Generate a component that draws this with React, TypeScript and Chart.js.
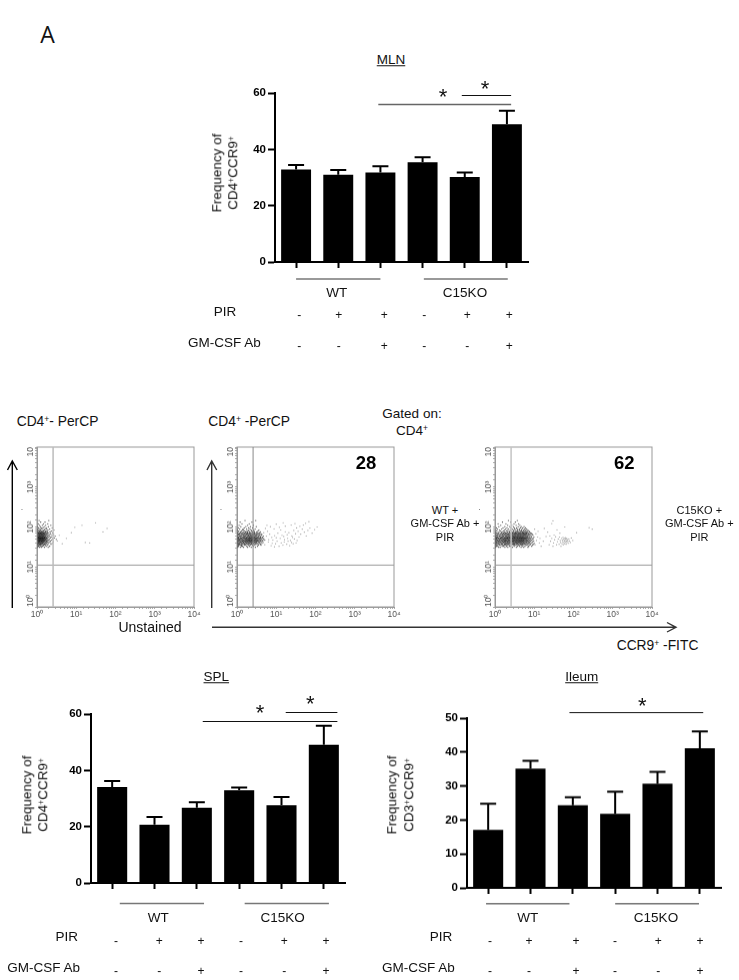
import React, { useEffect, useRef } from "react";
import { Chart, registerables } from "chart.js";

Chart.register(...registerables);

const FONT = '"Liberation Sans", Arial, sans-serif';

// ---------- bar chart data ----------
const categories = ["WT", "WT PIR", "WT PIR + Ab", "C15KO", "C15KO PIR", "C15KO PIR + Ab"];
const pirSigns = ["-", "+", "+", "-", "+", "+"];
const gmSigns = ["-", "-", "+", "-", "-", "+"];

const mlnValues = [32.8, 31, 31.8, 35.4, 30.2, 48.9];
const mlnSem = [1.6, 1.7, 2.2, 1.8, 1.6, 4.8];
const splValues = [34.1, 20.7, 26.7, 32.9, 27.6, 49.1];
const splSem = [2.1, 2.7, 2.0, 1.0, 2.9, 6.7];
const ileumValues = [17.1, 35.1, 24.3, 21.8, 30.7, 41.1];
const ileumSem = [7.7, 2.3, 2.4, 6.5, 3.5, 5.0];

// ---------- flow cytometry data: FITC values for each PerCP row, plus sparse [FITC, PerCP] events ----------
const flowRowLevels = [31, 33, 35, 37, 39, 41, 43, 45, 47, 49, 51, 53, 56, 59, 62, 65, 68, 71, 75, 79, 84, 89, 95, 102, 110, 120, 132, 145];

const unstainedFitc = [
  [1.02, 1.16, 1.29, 1.55, 1.93],
  [1.05, 1.09, 1.21, 1.34, 1.41, 1.71, 2.1],
  [1.01, 1.12, 1.18, 1.26, 1.44, 1.49, 1.63, 1.88],
  [1.04, 1.07, 1.15, 1.23, 1.28, 1.36, 1.52, 1.58, 1.79, 2.27],
  [1.03, 1.1, 1.19, 1.22, 1.31, 1.39, 1.46, 1.61, 1.68, 1.95, 2.44],
  [1.06, 1.08, 1.14, 1.17, 1.25, 1.33, 1.35, 1.42, 1.56, 1.74, 1.81, 2.15],
  [1.02, 1.11, 1.13, 1.2, 1.24, 1.3, 1.38, 1.45, 1.47, 1.6, 1.66, 1.87, 2.02, 2.6],
  [1.05, 1.09, 1.16, 1.18, 1.27, 1.29, 1.34, 1.4, 1.5, 1.54, 1.72, 1.77, 2.2],
  [1.03, 1.07, 1.12, 1.15, 1.21, 1.23, 1.32, 1.37, 1.43, 1.48, 1.57, 1.64, 1.84, 1.98, 2.36],
  [1.01, 1.1, 1.14, 1.19, 1.26, 1.28, 1.35, 1.39, 1.46, 1.53, 1.59, 1.7, 1.76, 2.08, 3.1],
  [1.04, 1.08, 1.13, 1.17, 1.22, 1.25, 1.31, 1.33, 1.41, 1.44, 1.51, 1.62, 1.67, 1.9, 2.5],
  [1.02, 1.06, 1.11, 1.15, 1.2, 1.24, 1.27, 1.36, 1.38, 1.47, 1.55, 1.58, 1.73, 1.82, 2.18, 2.75],
  [1.05, 1.09, 1.12, 1.18, 1.21, 1.29, 1.32, 1.4, 1.43, 1.52, 1.56, 1.65, 1.78, 1.99, 2.3],
  [1.03, 1.07, 1.14, 1.16, 1.23, 1.26, 1.34, 1.37, 1.45, 1.49, 1.6, 1.69, 1.86, 2.12, 2.9],
  [1.01, 1.1, 1.13, 1.19, 1.25, 1.3, 1.35, 1.42, 1.5, 1.57, 1.63, 1.8, 1.96, 2.4],
  [1.04, 1.08, 1.15, 1.2, 1.28, 1.33, 1.39, 1.46, 1.54, 1.68, 1.75, 2.05, 2.65],
  [1.02, 1.11, 1.17, 1.24, 1.27, 1.36, 1.44, 1.53, 1.61, 1.85, 2.22],
  [1.06, 1.09, 1.18, 1.22, 1.31, 1.41, 1.48, 1.59, 1.72, 1.92, 2.5],
  [1.03, 1.13, 1.2, 1.29, 1.38, 1.51, 1.64, 1.83, 2.15],
  [1.07, 1.16, 1.26, 1.34, 1.47, 1.67, 1.79, 2.32],
  [1.01, 1.12, 1.23, 1.43, 1.56, 1.9, 2.7],
  [1.05, 1.19, 1.33, 1.6, 1.77, 2.1],
  [1.1, 1.28, 1.42, 1.71, 2.45],
  [1.03, 1.22, 1.52, 1.95],
  [1.15, 1.37, 1.66, 2.25],
  [1.08, 1.46, 1.88],
  [1.24, 1.6],
  [1.13, 2.0],
];
const unstainedSparse = [[3.3, 45], [3.7, 62], [4.4, 38], [5.6, 52], [9.2, 98], [14, 110], [22, 40], [31, 128], [48, 75], [61, 92], [17, 41], [7.5, 72]];

const wtFitc = [
  [1.04, 1.22, 1.47, 1.86, 2.31, 2.94],
  [1.02, 1.09, 1.31, 1.38, 1.77, 2.08, 2.6, 3.32],
  [1.06, 1.13, 1.24, 1.29, 1.53, 1.62, 1.95, 2.18, 2.47, 2.85, 3.54, 4.1],
  [1.01, 1.1, 1.16, 1.33, 1.41, 1.58, 1.69, 1.83, 2.04, 2.26, 2.39, 2.72, 3.05, 3.41, 3.96],
  [1.03, 1.08, 1.2, 1.27, 1.36, 1.49, 1.56, 1.74, 1.91, 1.98, 2.15, 2.33, 2.54, 2.66, 2.98, 3.24, 3.7, 4.3],
  [1.05, 1.14, 1.18, 1.3, 1.44, 1.5, 1.67, 1.72, 1.88, 2.02, 2.1, 2.28, 2.42, 2.59, 2.81, 2.9, 3.15, 3.5, 3.85, 4.6],
  [1.02, 1.07, 1.23, 1.26, 1.39, 1.46, 1.6, 1.65, 1.79, 1.85, 2.0, 2.2, 2.24, 2.37, 2.51, 2.76, 3.01, 3.12, 3.44, 3.78, 4.15],
  [1.04, 1.11, 1.19, 1.34, 1.37, 1.52, 1.57, 1.71, 1.81, 1.94, 2.06, 2.13, 2.3, 2.45, 2.62, 2.69, 2.92, 3.2, 3.35, 3.62, 4.02, 4.5],
  [1.01, 1.12, 1.15, 1.28, 1.43, 1.48, 1.63, 1.75, 1.87, 1.97, 2.09, 2.22, 2.35, 2.41, 2.56, 2.79, 2.87, 3.08, 3.28, 3.58, 3.9, 4.35, 5.1],
  [1.03, 1.09, 1.21, 1.25, 1.35, 1.42, 1.59, 1.66, 1.78, 1.9, 2.01, 2.12, 2.27, 2.44, 2.52, 2.7, 2.96, 3.1, 3.38, 3.73, 4.05, 4.72],
  [1.06, 1.13, 1.17, 1.32, 1.4, 1.54, 1.61, 1.76, 1.84, 1.99, 2.07, 2.19, 2.34, 2.49, 2.63, 2.83, 3.0, 3.22, 3.47, 3.82, 4.25],
  [1.02, 1.08, 1.24, 1.29, 1.45, 1.51, 1.68, 1.73, 1.92, 2.03, 2.16, 2.25, 2.4, 2.58, 2.74, 2.91, 3.14, 3.4, 3.66, 4.0, 4.55],
  [1.05, 1.1, 1.2, 1.36, 1.43, 1.55, 1.7, 1.8, 1.89, 2.05, 2.14, 2.32, 2.48, 2.6, 2.78, 3.03, 3.3, 3.6, 3.98, 4.4],
  [1.01, 1.15, 1.22, 1.3, 1.47, 1.58, 1.64, 1.82, 1.96, 2.11, 2.23, 2.38, 2.55, 2.73, 2.95, 3.18, 3.52, 3.88, 4.7],
  [1.04, 1.12, 1.26, 1.38, 1.5, 1.6, 1.77, 1.93, 2.0, 2.17, 2.36, 2.5, 2.68, 2.89, 3.16, 3.45, 3.8, 4.2],
  [1.03, 1.09, 1.18, 1.33, 1.46, 1.62, 1.74, 1.86, 2.02, 2.21, 2.43, 2.64, 2.86, 3.06, 3.36, 3.75, 4.3],
  [1.07, 1.16, 1.28, 1.41, 1.56, 1.72, 1.9, 2.08, 2.28, 2.53, 2.77, 3.1, 3.5, 4.05],
  [1.02, 1.2, 1.35, 1.52, 1.69, 1.85, 2.04, 2.26, 2.57, 2.84, 3.26, 3.7],
  [1.06, 1.24, 1.44, 1.65, 1.83, 2.12, 2.46, 2.75, 3.2, 3.92],
  [1.11, 1.3, 1.57, 1.79, 2.01, 2.35, 2.7, 3.42],
  [1.03, 1.37, 1.48, 1.94, 2.29, 2.66, 3.6],
  [1.17, 1.42, 1.75, 2.15, 2.9],
  [1.08, 1.53, 1.98, 2.5],
  [1.25, 1.68, 2.2, 3.1],
  [1.13, 1.86, 2.62],
  [1.34, 2.05],
  [1.2, 2.4],
  [1.6, 3.0],
];
const wtSparse = [
  [5.1, 36], [6.3, 42], [4.9, 51], [5.6, 59], [7.4, 34], [8.2, 47], [9.6, 38], [6.8, 66], [7.7, 55], [10.5, 44],
  [11.8, 33], [12.6, 52], [9.1, 61], [13.4, 40], [14.8, 35], [16.2, 48], [11, 70], [18.5, 37], [20, 44], [15.5, 58],
  [22, 34], [24.5, 41], [19, 64], [27, 38], [17, 76], [29, 50], [13, 84], [6, 78], [8.8, 90], [12, 98],
  [21, 72], [25, 60], [31, 68], [34, 46], [38, 56], [28, 82], [36, 78], [42, 66], [46, 88], [33, 95],
  [52, 74], [58, 60], [40, 104], [64, 82], [49, 112], [72, 94], [82, 70], [56, 124], [68, 136], [95, 86],
  [24, 112], [17, 105], [10, 118], [7.1, 102], [5.3, 92], [4.8, 72], [5.8, 110], [15, 128], [30, 122], [110, 100],
  [6.4, 48], [7.9, 39], [9, 32], [10, 54], [14, 62], [16, 42], [19.5, 52], [23, 46], [26, 55], [32, 40],
];

const c15Fitc = [
  [1.03, 1.24, 1.36, 1.79, 2.12, 2.78, 3.5, 4.62, 5.4, 6.9],
  [1.01, 1.09, 1.18, 1.52, 1.66, 1.97, 2.36, 2.49, 3.08, 3.72, 4.2, 4.94, 5.8, 7.2, 8.6],
  [1.05, 1.13, 1.3, 1.4, 1.6, 1.72, 1.88, 2.05, 2.28, 2.62, 2.9, 3.22, 3.44, 3.94, 4.35, 4.76, 5.2, 6.2, 6.6, 7.7, 9.1],
  [1.02, 1.07, 1.21, 1.27, 1.46, 1.55, 1.76, 1.83, 2.01, 2.18, 2.42, 2.55, 2.82, 3.0, 3.14, 3.6, 3.81, 4.08, 4.5, 4.88, 5.1, 5.62, 6.05, 7.0, 7.95, 9.4],
  [1.04, 1.11, 1.16, 1.33, 1.43, 1.5, 1.69, 1.9, 1.94, 2.09, 2.24, 2.32, 2.58, 2.71, 2.96, 3.18, 3.35, 3.55, 3.77, 4.14, 4.42, 4.7, 5.04, 5.34, 5.72, 6.4, 6.75, 7.4, 8.3, 10],
  [1.01, 1.08, 1.23, 1.26, 1.37, 1.57, 1.63, 1.74, 1.85, 2.03, 2.15, 2.4, 2.46, 2.66, 2.87, 3.05, 3.27, 3.48, 3.66, 3.9, 4.05, 4.28, 4.58, 4.82, 5.26, 5.5, 5.94, 6.3, 7.1, 7.6, 8.8],
  [1.03, 1.1, 1.15, 1.29, 1.41, 1.47, 1.62, 1.7, 1.81, 1.92, 2.07, 2.2, 2.34, 2.52, 2.6, 2.8, 2.93, 3.1, 3.3, 3.52, 3.74, 3.98, 4.18, 4.46, 4.66, 4.98, 5.16, 5.58, 6.12, 6.5, 6.96, 7.8, 9.2],
  [1.02, 1.06, 1.19, 1.25, 1.35, 1.53, 1.58, 1.75, 1.87, 1.99, 2.11, 2.26, 2.44, 2.56, 2.75, 2.89, 3.03, 3.24, 3.41, 3.63, 3.85, 4.11, 4.32, 4.54, 4.8, 5.08, 5.38, 5.77, 6.22, 6.7, 7.3, 8.1, 9.7],
  [1.04, 1.12, 1.17, 1.31, 1.44, 1.49, 1.65, 1.78, 1.84, 2.0, 2.17, 2.3, 2.38, 2.63, 2.7, 2.98, 3.12, 3.37, 3.57, 3.7, 3.96, 4.24, 4.38, 4.72, 4.92, 5.24, 5.46, 5.88, 6.34, 6.85, 7.5, 8.5],
  [1.01, 1.09, 1.22, 1.28, 1.39, 1.56, 1.61, 1.73, 1.89, 1.95, 2.13, 2.22, 2.47, 2.54, 2.77, 2.84, 3.07, 3.2, 3.46, 3.59, 3.82, 4.0, 4.3, 4.48, 4.78, 5.02, 5.32, 5.66, 6.0, 6.45, 7.05, 7.85, 9.0],
  [1.03, 1.07, 1.14, 1.32, 1.42, 1.51, 1.67, 1.71, 1.86, 2.04, 2.1, 2.29, 2.41, 2.59, 2.68, 2.91, 3.01, 3.29, 3.39, 3.68, 3.88, 4.12, 4.34, 4.6, 4.84, 5.12, 5.44, 5.74, 6.16, 6.6, 7.25, 8.0, 9.5],
  [1.05, 1.11, 1.2, 1.24, 1.38, 1.45, 1.59, 1.77, 1.82, 1.98, 2.06, 2.25, 2.37, 2.51, 2.73, 2.86, 3.09, 3.16, 3.43, 3.64, 3.79, 4.06, 4.22, 4.52, 4.74, 4.96, 5.28, 5.6, 5.98, 6.42, 6.9, 7.65, 8.7],
  [1.02, 1.08, 1.16, 1.34, 1.48, 1.54, 1.68, 1.8, 1.93, 2.08, 2.19, 2.35, 2.48, 2.65, 2.85, 2.97, 3.15, 3.33, 3.54, 3.75, 3.99, 4.26, 4.44, 4.68, 5.0, 5.22, 5.52, 5.85, 6.28, 6.8, 7.35, 8.25, 9.8],
  [1.04, 1.13, 1.26, 1.3, 1.41, 1.59, 1.64, 1.84, 1.96, 2.14, 2.27, 2.43, 2.57, 2.79, 2.94, 3.11, 3.31, 3.5, 3.76, 3.93, 4.16, 4.4, 4.64, 4.9, 5.18, 5.48, 5.9, 6.25, 6.72, 7.45, 8.4],
  [1.01, 1.1, 1.18, 1.36, 1.5, 1.57, 1.74, 1.88, 2.02, 2.16, 2.33, 2.5, 2.64, 2.83, 3.04, 3.23, 3.42, 3.67, 3.86, 4.1, 4.36, 4.56, 4.86, 5.14, 5.42, 5.7, 6.1, 6.55, 7.15, 7.9, 9.3],
  [1.06, 1.15, 1.28, 1.44, 1.61, 1.72, 1.91, 2.07, 2.21, 2.39, 2.61, 2.76, 2.99, 3.19, 3.36, 3.61, 3.84, 4.03, 4.33, 4.62, 4.94, 5.3, 5.64, 6.02, 6.48, 7.0, 7.7, 8.9],
  [1.03, 1.22, 1.37, 1.55, 1.7, 1.87, 2.03, 2.23, 2.45, 2.67, 2.88, 3.13, 3.4, 3.62, 3.89, 4.2, 4.5, 4.85, 5.2, 5.56, 5.95, 6.38, 7.02, 7.75, 8.6],
  [1.08, 1.19, 1.46, 1.66, 1.83, 2.0, 2.3, 2.53, 2.81, 3.06, 3.32, 3.58, 3.92, 4.28, 4.6, 5.06, 5.35, 5.82, 6.35, 6.95, 8.15],
  [1.02, 1.27, 1.51, 1.76, 2.09, 2.36, 2.72, 3.02, 3.38, 3.71, 4.08, 4.55, 4.98, 5.5, 6.08, 6.62, 7.6],
  [1.12, 1.39, 1.63, 1.94, 2.27, 2.6, 3.0, 3.47, 3.83, 4.37, 4.76, 5.25, 5.78, 6.5, 7.3],
  [1.06, 1.31, 1.73, 2.05, 2.46, 2.9, 3.25, 3.78, 4.23, 4.7, 5.4, 6.05, 6.9],
  [1.16, 1.48, 1.85, 2.22, 2.74, 3.2, 3.66, 4.15, 4.88, 5.66, 6.4],
  [1.09, 1.6, 2.02, 2.55, 3.1, 3.55, 4.42, 5.1, 6.0],
  [1.25, 1.78, 2.38, 2.95, 3.9, 4.65, 5.5],
  [1.4, 2.1, 2.68, 3.45, 4.3],
  [1.2, 1.9, 3.05, 4.0],
  [1.55, 2.5, 3.3],
  [2.2, 3.7],
];
const c15Sparse = [
  [10.5, 36], [11.4, 46], [12.2, 56], [13.5, 40], [11, 68], [15, 33], [14, 52], [17, 44], [12.5, 78], [10.2, 88],
  [24, 36], [26, 44], [28, 52], [25, 60], [30, 33], [31, 40], [33, 48], [35, 57], [32, 63], [37, 36],
  [39, 43], [41, 50], [43, 37], [44, 56], [46, 46], [48, 33], [47, 41], [50, 52], [51, 38], [52, 47],
  [53, 43], [54, 55], [55, 36], [56, 49], [57, 41], [58, 52], [59, 45], [60, 38], [61, 47], [62, 54],
  [63, 42], [64, 50], [65, 37], [66, 45], [67, 52], [68, 41], [70, 48], [72, 44], [74, 39], [76, 50],
  [79, 45], [83, 41], [88, 53], [96, 46], [20, 58], [22, 74], [18, 92], [38, 85], [250, 96], [28, 122],
  [300, 88], [120, 72], [30, 142], [45, 70], [60, 100],
];

const flowDecades = [1, 10, 100, 1000, 10000];
const flowXLabels = ["10⁰", "10¹", "10²", "10³", "10⁴"];
const flowYLabels = ["10⁰", "10¹", "10²", "10³", "10"];
const fitcGate = 2.57;
const percpGate = 11.1;

const toPoints = (lists: number[][]) =>
  lists.flatMap((xs, i) => xs.map((x) => ({ x, y: flowRowLevels[i] })));
const pairsToPoints = (pairs: number[][]) => pairs.map(([x, y]) => ({ x, y }));

// ---------- shared text helper ----------
function T(props: any) {
  const { x, y, size = 13.5, bold, underline, rotate, align = "center", color = "#111", children } = props;
  const tx = align === "left" ? "0" : "-50%";
  return (
    <span
      style={{
        position: "absolute",
        left: x,
        top: y,
        transform: `translate(${tx},-50%)${rotate ? ` rotate(${rotate}deg)` : ""}`,
        willChange: rotate ? "transform" : undefined,
        font: `${bold ? "bold " : ""}${size}px ${FONT}`,
        lineHeight: 1,
        whiteSpace: "nowrap",
        color,
        textDecoration: underline ? "underline" : "none",
      }}
    >
      {children}
    </span>
  );
}

function Sup({ children }: any) {
  return (
    <span style={{ fontSize: "0.62em", position: "relative", top: "-0.42em", lineHeight: 0 }}>{children}</span>
  );
}

// ---------- bar panel ----------
const Y_AXIS_W = 30;
const X_AXIS_H = 30;
const PAD_TOP = 25;

function BarPanel(props: any) {
  const { left, top, bottom, width, values, sem, yMax, step, sig, groups, groupOffset } = props;
  const ref = useRef<HTMLCanvasElement>(null);
  const cw = Y_AXIS_W + width + 6;
  const ch = PAD_TOP + (bottom - top) + X_AXIS_H;

  useEffect(() => {
    const overlay = {
      id: "overlay",
      afterDatasetsDraw(chart: any) {
        const { ctx, scales, chartArea } = chart;
        const { x: xs, y: ys } = scales;
        const x0 = xs.getPixelForValue(0);
        const unit = xs.getPixelForValue(1) - x0;
        ctx.save();
        ctx.strokeStyle = "#000";
        ctx.lineWidth = 2;
        values.forEach((v: number, i: number) => {
          const px = xs.getPixelForValue(i);
          const y0 = ys.getPixelForValue(v);
          const y1 = ys.getPixelForValue(v + sem[i]);
          ctx.beginPath();
          ctx.moveTo(px, y0);
          ctx.lineTo(px, y1);
          ctx.moveTo(px - 8, y1);
          ctx.lineTo(px + 8, y1);
          ctx.stroke();
        });
        sig.forEach((s: any) => {
          const y = Math.round(ys.getPixelForValue(s.level)) + 0.5;
          ctx.strokeStyle = s.color;
          ctx.lineWidth = s.lw;
          ctx.beginPath();
          ctx.moveTo(x0 + s.from * unit, y);
          ctx.lineTo(x0 + s.to * unit, y);
          ctx.stroke();
        });
        const gy = chartArea.bottom + groupOffset;
        ctx.strokeStyle = "#777";
        ctx.lineWidth = 1.5;
        groups.forEach((g: number[]) => {
          ctx.beginPath();
          ctx.moveTo(x0 + g[0] * unit, gy);
          ctx.lineTo(x0 + g[1] * unit, gy);
          ctx.stroke();
        });
        ctx.restore();
      },
    };
    const chart = new Chart(ref.current as HTMLCanvasElement, {
      type: "bar",
      data: {
        labels: categories,
        datasets: [{ data: values, backgroundColor: "#000", barPercentage: 0.71, categoryPercentage: 1 }],
      },
      options: {
        animation: false,
        responsive: false,
        devicePixelRatio: 1,
        layout: { padding: { top: PAD_TOP, right: 6, left: 0, bottom: 0 } },
        plugins: { legend: { display: false }, tooltip: { enabled: false } },
        scales: {
          x: {
            grid: { offset: false, drawOnChartArea: false, tickLength: 6, tickColor: "#000", tickWidth: 2 },
            border: { color: "#000", width: 2 },
            ticks: { display: false },
            afterFit: (s: any) => {
              s.height = X_AXIS_H;
            },
          },
          y: {
            min: 0,
            max: yMax,
            grid: { drawOnChartArea: false, tickLength: 7, tickColor: "#000", tickWidth: 2 },
            border: { color: "#000", width: 2 },
            ticks: {
              stepSize: step,
              padding: 2,
              color: "#000",
              font: { family: FONT, size: 11.5, weight: "bold" },
            },
            afterFit: (s: any) => {
              s.width = Y_AXIS_W;
            },
          },
        },
      },
      plugins: [overlay],
    } as any);
    return () => chart.destroy();
  }, []);

  return (
    <canvas
      ref={ref}
      width={cw}
      height={ch}
      style={{ position: "absolute", left: left - Y_AXIS_W, top: top - PAD_TOP, width: cw, height: ch }}
    />
  );
}

// ---------- flow panel ----------
const F_LEFT_W = 22;
const F_BOTTOM_H = 20;
const F_PAD = 6;
const F_RIGHT = 12;
const F_W = 157;
const F_H = 159.5;
const F_TOP = 447.3;

function FlowPanel(props: any) {
  const { left, lists, sparse, gateColor, gateWidth } = props;
  const ref = useRef<HTMLCanvasElement>(null);
  const cw = F_LEFT_W + F_W + F_RIGHT;
  const ch = F_PAD + F_H + F_BOTTOM_H;
  useEffect(() => {
    const overlay = {
      id: "flowOverlay",
      afterDatasetsDraw(chart: any) {
        const { ctx, chartArea: a, scales } = chart;
        ctx.save();
        ctx.strokeStyle = "#999";
        ctx.lineWidth = 1;
        ctx.strokeRect(a.left, a.top, a.width, a.height);
        const hy = scales.y.getPixelForValue(percpGate);
        ctx.beginPath();
        ctx.moveTo(a.left, hy);
        ctx.lineTo(a.right, hy);
        ctx.stroke();
        ctx.strokeStyle = gateColor;
        ctx.lineWidth = gateWidth;
        const vx = scales.x.getPixelForValue(fitcGate);
        ctx.beginPath();
        ctx.moveTo(vx, a.top);
        ctx.lineTo(vx, a.bottom);
        ctx.stroke();
        ctx.fillStyle = "#555";
        ctx.font = `8.5px ${FONT}`;
        ctx.textBaseline = "middle";
        flowDecades.forEach((v, i) => {
          ctx.save();
          ctx.translate(a.left - 6, scales.y.getPixelForValue(v));
          ctx.rotate(-Math.PI / 2);
          ctx.textAlign = i === 0 ? "left" : i === flowDecades.length - 1 ? "right" : "center";
          ctx.fillText(flowYLabels[i], 0, 0);
          ctx.restore();
        });
        ctx.restore();
      },
    };
    const chart = new Chart(ref.current as HTMLCanvasElement, {
      type: "scatter",
      data: {
        datasets: [
          {
            data: toPoints(lists),
            pointRadius: 0.62,
            pointBorderWidth: 0,
            pointBackgroundColor: "rgba(0,0,0,0.72)",
          },
          {
            data: pairsToPoints(sparse),
            pointRadius: 0.6,
            pointBorderWidth: 0,
            pointBackgroundColor: "rgba(0,0,0,0.4)",
          },
        ],
      },
      options: {
        animation: false,
        responsive: false,
        devicePixelRatio: 1,
        layout: { padding: { top: F_PAD, right: F_RIGHT, left: 0, bottom: 0 } },
        plugins: { legend: { display: false }, tooltip: { enabled: false } },
        scales: {
          x: {
            type: "logarithmic",
            min: 1,
            max: 10000,
            grid: { drawOnChartArea: false, tickLength: 2, tickColor: "#aaa" },
            border: { color: "#999" },
            ticks: {
              autoSkip: false,
              maxRotation: 0,
              minRotation: 0,
              padding: 1,
              color: "#555",
              font: { family: FONT, size: 8.5 },
              callback: (v: any) => {
                const i = flowDecades.indexOf(Number(v));
                return i >= 0 ? flowXLabels[i] : "";
              },
            },
            afterFit: (s: any) => {
              s.height = F_BOTTOM_H;
            },
          },
          y: {
            type: "logarithmic",
            min: 1,
            max: 10000,
            grid: { drawOnChartArea: false, tickLength: 2, tickColor: "#aaa" },
            border: { color: "#999" },
            ticks: { display: false },
            afterFit: (s: any) => {
              s.width = F_LEFT_W;
            },
          },
        },
      },
      plugins: [overlay],
    } as any);
    return () => chart.destroy();
  }, []);
  return (
    <canvas
      ref={ref}
      width={cw}
      height={ch}
      style={{ position: "absolute", left: left - F_LEFT_W, top: F_TOP - F_PAD, width: cw, height: ch }}
    />
  );
}

function Signs({ xs, y, signs }: any) {
  return xs.map((x: number, i: number) => (
    <T key={i} x={x} y={y} size={12}>
      {signs[i]}
    </T>
  ));
}

function YTitle({ x1, x2, y, name }: any) {
  return (
    <>
      <T x={x1} y={y} rotate={-90}>Frequency of</T>
      <T x={x2} y={y} rotate={-90}>
        {name}
        <Sup>+</Sup>CCR9<Sup>+</Sup>
      </T>
    </>
  );
}

function Star({ x, y }: any) {
  return (
    <T x={x} y={y + 2} size={22}>
      *
    </T>
  );
}

export default function App() {
  return (
    <div style={{ position: "absolute", left: 0, top: 0, width: 739, height: 980, background: "#fff", overflow: "hidden" }}>
      <T x={47.5} y={35} size={23} color="#111">
        <span style={{ fontFamily: '"Open Sans"' }}>A</span>
      </T>

      {/* MLN */}
      <T x={391} y={60} underline>MLN</T>
      <BarPanel
        left={275}
        top={92.7}
        bottom={261.7}
        width={253}
        values={mlnValues}
        sem={mlnSem}
        yMax={60}
        step={20}
        sig={[
          { from: 1.95, to: 5.1, level: 56.2, color: "#666", lw: 1.5 },
          { from: 3.93, to: 5.1, level: 59.2, color: "#111", lw: 1 },
        ]}
        groups={[[0, 2], [3.03, 5.02]]}
        groupOffset={17}
      />
      <YTitle x1={216.7} x2={232.7} y={173} name="CD4" />
      <Star x={443} y={95} />
      <Star x={485} y={87} />
      <T x={336.7} y={293}>WT</T>
      <T x={465} y={293}>C15KO</T>
      <T x={225} y={312}>PIR</T>
      <T x={224.3} y={343}>GM-CSF Ab</T>
      <Signs xs={[299.3, 338.7, 384.3, 424.3, 467.3, 509.3]} y={315} signs={pirSigns} />
      <Signs xs={[299.3, 338.7, 384.3, 424.3, 467.3, 509.3]} y={345.7} signs={gmSigns} />

      {/* flow panel text */}
      <T x={16.7} y={422} align="left" size={13.8}>
        CD4<Sup>+</Sup>- PerCP
      </T>
      <T x={208.3} y={422} align="left" size={13.8}>
        CD4<Sup>+</Sup> -PerCP
      </T>
      <T x={412} y={414.3}>Gated on:</T>
      <T x={412} y={430.7}>
        CD4<Sup>+</Sup>
      </T>
      <FlowPanel left={36.7} lists={unstainedFitc} sparse={unstainedSparse} gateColor="#bbb" gateWidth={1.5} />
      <FlowPanel left={237} lists={wtFitc} sparse={wtSparse} gateColor="#888" gateWidth={1} />
      <FlowPanel left={494.7} lists={c15Fitc} sparse={c15Sparse} gateColor="#c4c4c4" gateWidth={1.5} />
      <T x={366} y={462.7} size={18.5} bold color="#000">28</T>
      <T x={624.3} y={462.7} size={18.5} bold color="#000">62</T>
      <T x={445} y={510} size={11}>WT +</T>
      <T x={445} y={523.3} size={11}>GM-CSF Ab +</T>
      <T x={445} y={536.7} size={11}>PIR</T>
      <T x={699.3} y={510} size={11}>C15KO +</T>
      <T x={699.3} y={523.3} size={11}>GM-CSF Ab +</T>
      <T x={699.3} y={536.7} size={11}>PIR</T>
      <T x={150} y={626.7} size={14}>Unstained</T>
      <T x={616.7} y={646} align="left" size={13.8}>
        CCR9<Sup>+</Sup> -FITC
      </T>
      <T x={22} y={507} size={7}>.</T>
      <T x={221} y={507} size={7}>.</T>
      <T x={479.5} y={507} size={7}>.</T>
      <svg width={739} height={980} style={{ position: "absolute", left: 0, top: 0, pointerEvents: "none" }}>
        <g fill="none" strokeWidth={1.4}>
          <path d="M12.3 608V461M7.5 470L12.3 461L17.3 470" stroke="#000" />
          <path d="M211.7 608V461M207 470L211.7 461L216.7 470" stroke="#333" />
          <path d="M212 627.3H676M667 622.5L676 627.3L667 632" stroke="#333" />
        </g>
      </svg>

      {/* SPL */}
      <T x={216.3} y={677} underline>SPL</T>
      <BarPanel
        left={90.7}
        top={714}
        bottom={883.3}
        width={254}
        values={splValues}
        sem={splSem}
        yMax={60}
        step={20}
        sig={[
          { from: 2.14, to: 5.32, level: 57.6, color: "#111", lw: 1 },
          { from: 4.1, to: 5.32, level: 60.6, color: "#111", lw: 1 },
        ]}
        groups={[[0.18, 2.17], [3.13, 5.12]]}
        groupOffset={20.4}
      />
      <YTitle x1={26.7} x2={42.7} y={795} name="CD4" />
      <Star x={260} y={710.7} />
      <Star x={310.3} y={702.3} />
      <T x={158.3} y={918}>WT</T>
      <T x={282.7} y={918}>C15KO</T>
      <T x={66.7} y={936.7}>PIR</T>
      <T x={43.7} y={968.3}>GM-CSF Ab</T>
      <Signs xs={[116, 159.3, 201, 241, 284.3, 326]} y={940.7} signs={pirSigns} />
      <Signs xs={[116, 159.3, 201, 241, 284.3, 326]} y={971} signs={gmSigns} />

      {/* Ileum */}
      <T x={581.7} y={677} underline>Ileum</T>
      <BarPanel
        left={466.7}
        top={718.3}
        bottom={888}
        width={254}
        values={ileumValues}
        sem={ileumSem}
        yMax={50}
        step={10}
        sig={[{ from: 1.92, to: 5.08, level: 51.8, color: "#111", lw: 1 }]}
        groups={[[-0.05, 1.92], [3.0, 4.98]]}
        groupOffset={15.7}
      />
      <YTitle x1={391.7} x2={409} y={795} name="CD3" />
      <Star x={642.3} y={703.7} />
      <T x={527.7} y={918}>WT</T>
      <T x={656} y={918}>C15KO</T>
      <T x={441} y={936.7}>PIR</T>
      <T x={418.3} y={968.3}>GM-CSF Ab</T>
      <Signs xs={[490, 529, 576, 615, 658.3, 700]} y={940.7} signs={pirSigns} />
      <Signs xs={[490, 529, 576, 615, 658.3, 700]} y={971} signs={gmSigns} />
    </div>
  );
}
